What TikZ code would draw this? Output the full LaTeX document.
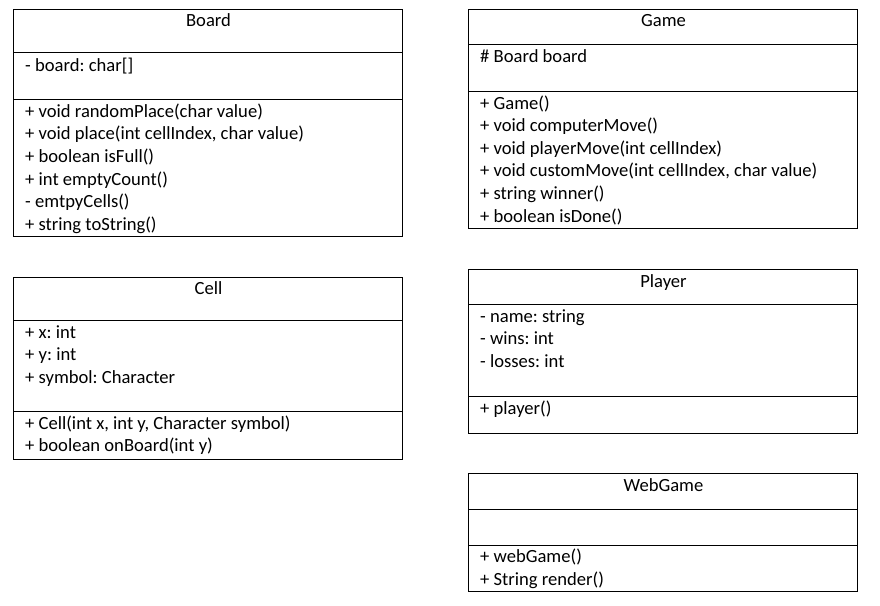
\documentclass[tikz,border=0pt]{standalone}
\usepackage{fontspec}
\setmainfont{Carlito}
\frenchspacing
\begin{document}
\begin{tikzpicture}[x=1pt,y=-1pt,
  box/.style={draw=black,line width=1pt,fill=white,inner sep=0pt,minimum width=389pt},
  txt/.style={anchor=base west,inner sep=0pt,font=\fontsize{18.6}{22}\selectfont},
  ttl/.style={anchor=base,inner sep=0pt,font=\fontsize{18.6}{22}\selectfont},
  sep/.style={line width=1pt}]
\newcommand{\mylines}[4]{%
  \foreach \t [count=\i] in {#4} {
    \node[txt] (#1\i) at (#2, {#3+(\i-1)*22.65}) {\t};
  }}
\useasboundingbox[fill=white] (0,0) rectangle (880,605);
% Board
\node[box,minimum height=227pt] (board) at (208,123.2) {};
\draw[sep] (13.5,52.3) -- (402.5,52.3);
\draw[sep] (13.5,99.3) -- (402.5,99.3);
\node[ttl] (boardT) at (208.5,26.7) {Board};
\mylines{boardA}{25}{71.3}{{- board: char[]}}
\mylines{boardM}{25}{117.3}{{+ void randomPlace(char value)},{+ void place(int cellIndex, char value)},{+ boolean isFull()},{+ int emptyCount()},{- emtpyCells()},{+ string toString()}}
% Game
\node[box,minimum height=218.6pt] (game) at (663,119) {};
\draw[sep] (468.7,44) -- (857.3,44);
\draw[sep] (468.7,91.3) -- (857.3,91.3);
\node[ttl] (gameT) at (663.5,26.7) {Game};
\mylines{gameA}{480}{62.3}{{\# Board board}}
\mylines{gameM}{480}{109}{{+ Game()},{+ void computerMove()},{+ void playerMove(int cellIndex)},{+ void customMove(int cellIndex, char value)},{+ string winner()},{+ boolean isDone()}}
% Cell
\node[box,minimum height=181.7pt] (cell) at (208,368.15) {};
\draw[sep] (13.5,320.7) -- (402.5,320.7);
\draw[sep] (13.5,411.7) -- (402.5,411.7);
\node[ttl] (cellT) at (208.5,294.3) {Cell};
\mylines{cellA}{25}{338.3}{{+ x: int},{+ y: int},{+ symbol: Character}}
\mylines{cellM}{25}{429.3}{{+ Cell(int x, int y, Character symbol)},{+ boolean onBoard(int y)}}
% Player
\node[box,minimum height=163.6pt] (player) at (663,351.5) {};
\draw[sep] (468.7,304.3) -- (857.3,304.3);
\draw[sep] (468.7,396.3) -- (857.3,396.3);
\node[ttl] (playerT) at (663.5,287.3) {Player};
\mylines{playerA}{480}{322.3}{{- name: string},{- wins: int},{- losses: int}}
\mylines{playerM}{480}{414}{{+ player()}}
% WebGame
\node[box,minimum height=117.6pt] (web) at (663,532.5) {};
\draw[sep] (468.7,509.3) -- (857.3,509.3);
\draw[sep] (468.7,545.3) -- (857.3,545.3);
\node[ttl] (webT) at (663.5,491) {WebGame};
\mylines{webM}{480}{562.7}{{+ webGame()},{+ String render()}}
\end{tikzpicture}
\end{document}
